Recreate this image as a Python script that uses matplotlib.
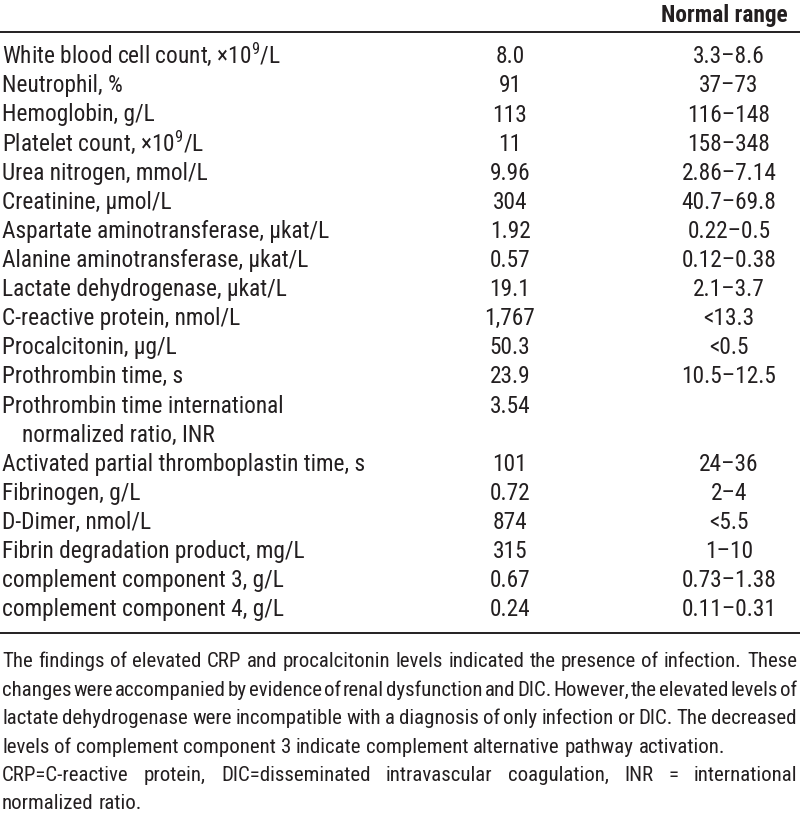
import matplotlib
matplotlib.use("Agg")
import matplotlib.pyplot as plt

FONT = "Roboto Condensed"
plt.rcParams["font.family"] = [FONT, "DejaVu Sans"]
plt.rcParams["mathtext.fontset"] = "custom"
plt.rcParams["mathtext.rm"] = FONT
plt.rcParams["mathtext.default"] = "regular"

# table data
tests = [
    "White blood cell count, \u00d710$^{9}$/L",
    "Neutrophil, %",
    "Hemoglobin, g/L",
    "Platelet count, \u00d710$^{9}$/L",
    "Urea nitrogen, mmol/L",
    "Creatinine, \u03bcmol/L",
    "Aspartate aminotransferase, \u03bckat/L",
    "Alanine aminotransferase, \u03bckat/L",
    "Lactate dehydrogenase, \u03bckat/L",
    "C-reactive protein, nmol/L",
    "Procalcitonin, \u03bcg/L",
    "Prothrombin time, s",
    "Prothrombin time international\nnormalized ratio, INR",
    "Activated partial thromboplastin time, s",
    "Fibrinogen, g/L",
    "D-Dimer, nmol/L",
    "Fibrin degradation product, mg/L",
    "complement component 3, g/L",
    "complement component 4, g/L",
]
values = ["8.0", "91", "113", "11", "9.96", "304", "1.92", "0.57", "19.1",
          "1,767", "50.3", "23.9", "3.54", "101", "0.72", "874", "315",
          "0.67", "0.24"]
normal_range = ["3.3\u20138.6", "37\u201373", "116\u2013148", "158\u2013348",
                "2.86\u20137.14", "40.7\u201369.8", "0.22\u20130.5",
                "0.12\u20130.38", "2.1\u20133.7", "<13.3", "<0.5",
                "10.5\u201312.5", "", "24\u201336", "2\u20134", "<5.5",
                "1\u201310", "0.73\u20131.38", "0.11\u20130.31"]
header = "Normal range"

# footnote lines as set in the reference; True = paragraph's last line
footnote_lines = [
    ("The findings of elevated CRP and procalcitonin levels indicated the "
     "presence of infection. These", False),
    ("changes were accompanied by evidence of renal dysfunction and DIC. "
     "However, the elevated levels of", False),
    ("lactate dehydrogenase were incompatible with a diagnosis of only "
     "infection or DIC. The decreased", False),
    ("levels of complement component 3 indicate complement alternative "
     "pathway activation.", True),
    ("CRP=C-reactive protein, DIC=disseminated intravascular coagulation, "
     "INR = international", False),
    ("normalized ratio.", True),
]

W, H = 800, 815
fs = 16.8      # table rows
fs_note = 15   # footnote
ink = "#231f20"

fig = plt.figure(figsize=(W / 100, H / 100), dpi=100)
ax = fig.add_axes([0, 0, 1, 1])
ax.set_xlim(0, W)
ax.set_ylim(H, 0)
ax.axis("off")
renderer = fig.canvas.get_renderer()

x_label, x_val, x_rng = 2, 510, 729
row_h = 29.1
first_row = 55
cap = 8.3  # half cap height in px, baseline offset

ax.text(724, 14 + cap, header, ha="center", va="baseline",
        fontsize=fs, fontweight="bold", color=ink)
ax.plot([0, W], [32, 32], color=ink, lw=1.4, solid_capstyle="butt")

line = 0
for name, val, rng in zip(tests, values, normal_range):
    y = first_row + line * row_h + cap
    ax.text(x_val, y, val, ha="center", va="baseline", fontsize=fs, color=ink)
    ax.text(x_rng, y, rng, ha="center", va="baseline", fontsize=fs, color=ink)
    for k, part in enumerate(name.split("\n")):
        ax.text(x_label + (20 if k else 0), first_row + line * row_h + cap,
                part, ha="left", va="baseline", fontsize=fs, color=ink)
        line += 1

bottom = first_row + (line - 1) * row_h + 25
ax.plot([0, W], [bottom, bottom], color=ink, lw=1.4, solid_capstyle="butt")


def word_width(word):
    t = ax.text(0, 0, word, fontsize=fs_note)
    w = t.get_window_extent(renderer).width
    t.remove()
    return w


# justified footnote
space = word_width("a b") - word_width("ab")
x0, x1 = 2, 797
y = bottom + 27 + 7.5
fn_h = 28.4
for text, last in footnote_lines:
    words = text.split(" ")
    widths = [word_width(wd) for wd in words]
    gap = space if last else (x1 - x0 - sum(widths)) / (len(words) - 1)
    x = x0
    for wd, w in zip(words, widths):
        ax.text(x, y, wd, ha="left", va="baseline", fontsize=fs_note, color=ink)
        x += w + gap
    y += fn_h

fig.savefig("out.png", dpi=100)
